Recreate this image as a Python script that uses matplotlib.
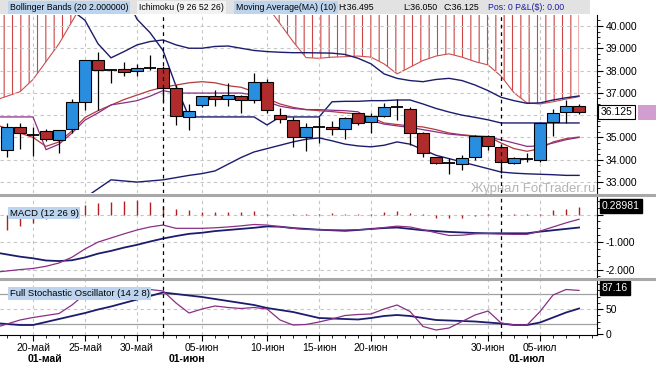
import numpy as np
import matplotlib
matplotlib.use("Agg")
import matplotlib.pyplot as plt
from matplotlib.patches import Rectangle
from matplotlib.lines import Line2D
from matplotlib.ticker import MultipleLocator
import matplotlib.transforms as mtrans

plt.rcParams['font.family'] = ['Liberation Sans', 'DejaVu Sans']
plt.rcParams['hatch.linewidth'] = 0.8
plt.rcParams['hatch.color'] = '#d04444'

# ---- values (one entry per daily bar) ----
opens = [34.44, 35.46, 35.11, 35.27, 34.90, 35.37, 36.60, 38.48, 38.03, 38.06,
         37.98, 38.13, 38.13, 37.23, 35.93, 36.46, 36.84, 36.74, 36.86, 36.68,
         37.50, 36.00, 35.78, 35.04, 35.49, 35.49, 35.37, 36.08, 35.71, 35.96,
         36.35, 36.26, 35.19, 34.11, 33.84, 33.81, 34.11, 35.07, 34.56, 33.87,
         34.02, 33.99, 35.71, 36.16, 36.41]
highs = [35.64, 35.66, 35.46, 35.40, 35.35, 36.71, 38.48, 38.85, 38.05, 38.40,
         38.30, 38.70, 38.20, 37.35, 36.50, 36.86, 37.13, 37.46, 36.90, 37.88,
         37.61, 36.31, 35.90, 35.64, 35.93, 35.75, 35.90, 36.10, 36.08, 36.56,
         36.71, 36.35, 35.25, 34.14, 34.07, 34.22, 35.10, 35.10, 34.70, 34.12,
         34.32, 35.70, 36.26, 36.68, 36.495]
lows = [34.11, 34.50, 34.17, 34.85, 34.32, 35.19, 36.22, 36.25, 37.44, 37.77,
        37.77, 38.03, 36.60, 35.56, 35.34, 36.38, 36.40, 36.40, 36.08, 36.56,
        36.11, 35.66, 34.55, 34.41, 34.77, 35.11, 34.92, 35.56, 35.22, 35.91,
        35.78, 34.66, 34.14, 33.80, 33.36, 33.54, 33.99, 34.44, 33.39, 33.80,
        33.90, 33.90, 35.07, 35.66, 36.05]
closes = [35.46, 35.19, 35.11, 34.93, 35.35, 36.58, 38.48, 38.03, 38.03, 37.95,
          38.10, 38.13, 37.23, 35.98, 36.20, 36.84, 36.72, 36.90, 36.68, 37.50,
          36.23, 35.82, 35.04, 35.46, 35.49, 35.37, 35.86, 35.66, 35.96, 36.35,
          36.35, 35.22, 34.32, 33.87, 33.84, 34.07, 35.07, 34.62, 33.92, 34.07,
          34.02, 35.66, 36.11, 36.41, 36.125]

bb_upper = [41.6, 41.5, 41.3, 41.1, 40.9, 40.7, 40.25, 39.2, 38.57, 38.85,
            39.15, 39.3, 39.37, 39.15, 39.0, 39.0, 39.08, 39.1, 39.0, 38.9,
            38.85, 38.82, 38.8, 38.8, 38.79, 38.78, 38.72, 38.55, 38.3, 37.85,
            37.65, 37.55, 37.5, 37.6, 37.65, 37.55, 37.35, 37.1, 36.8, 36.65,
            36.53, 36.55, 36.68, 36.78, 36.86]
bb_lower = [31.5, 31.6, 31.7, 31.8, 31.9, 32.1, 32.3, 32.7, 33.1, 33.05,
            33.0, 33.05, 33.1, 33.2, 33.3, 33.38, 33.5, 33.8, 34.1, 34.35,
            34.5, 34.65, 34.8, 34.92, 34.98, 34.85, 34.7, 34.62, 34.58, 34.65,
            34.8, 34.7, 34.45, 34.2, 34.05, 33.9, 33.75, 33.6, 33.45, 33.4,
            33.37, 33.35, 33.33, 33.3, 33.3]
kijun = [42.0, 42.0, 42.0, 42.0, 42.0, 42.0, 42.0, 42.0, 42.0, 41.5,
         40.3, 39.7, 38.9, 37.3, 35.92, 35.92, 35.92, 35.92, 35.92, 35.92,
         35.56, 35.92, 35.92, 35.92, 35.92, 36.6, 36.62, 36.62, 36.65, 36.65,
         36.68, 36.68, 36.5, 36.3, 36.14, 36.0, 35.9, 35.79, 35.65, 35.65,
         35.65, 35.65, 35.65, 35.65, 35.65]
tenkan = [35.92, 35.92, 35.92, 34.45, 34.7, 35.2, 35.78, 36.1, 36.46, 36.55,
          36.65, 36.85, 37.1, 36.99, 36.99, 36.99, 36.99, 36.99, 36.99, 36.9,
          36.6, 36.4, 36.3, 36.25, 36.25, 36.22, 36.2, 36.15, 35.75, 35.6,
          35.52, 35.45, 35.35, 35.25, 35.15, 35.1, 35.05, 35.0, 34.9, 34.75,
          34.6, 34.62, 34.75, 34.9, 35.0]
ma10 = [35.4, 35.2, 35.0, 34.6, 34.8, 35.3, 35.9, 36.2, 36.45, 36.7,
        36.9, 37.1, 37.25, 37.35, 37.45, 37.5, 37.45, 37.32, 37.25, 37.05,
        36.75, 36.5, 36.35, 36.25, 36.2, 36.16, 36.1, 36.05, 35.9, 35.65,
        35.58, 35.52, 35.47, 35.35, 35.2, 35.12, 35.07, 35.04, 34.75, 34.5,
        34.38, 34.5, 34.8, 34.95, 35.02]
cloud_lo = [36.85, 37.05, 37.6, 38.4, 39.2, 40.2, 41.2, 41.6, 41.8, 41.9,
            42.0, 42.0, 42.0, 42.0, 42.0, 42.0, 42.0, 42.0, 41.9, 41.6,
            40.9, 40.1, 39.3, 38.58, 38.55, 38.6, 38.62, 38.65, 38.6, 38.3,
            37.85, 38.15, 38.45, 38.65, 38.75, 38.6, 38.4, 38.25, 37.75, 37.0,
            36.55, 36.5, 36.6, 36.72, 36.83]

macd_hist = [-0.56, -0.42, -0.32, -0.17, -0.08, 0.04, 0.35, 0.43, 0.46, 0.48,
             0.53, 0.46, 0.30, 0.22, 0.17, 0.08, 0.10, 0.10, 0.10, 0.13,
             0.02, -0.02, 0.01, 0.02, 0.02, 0.05, 0.02, 0.01, 0.01, 0.08,
             0.12, 0.04, 0.01, -0.12, -0.12, -0.12, -0.06, 0.01, 0.0, 0.01,
             0.01, 0.02, 0.18, 0.21, 0.28981]
macd_main = [-2.05, -2.0, -1.96, -1.88, -1.76, -1.55, -1.25, -1.0, -0.85, -0.7,
             -0.56, -0.45, -0.38, -0.5, -0.5, -0.5, -0.48, -0.45, -0.41, -0.36,
             -0.38, -0.44, -0.5, -0.54, -0.55, -0.56, -0.56, -0.55, -0.53, -0.47,
             -0.42, -0.45, -0.55, -0.66, -0.76, -0.75, -0.7, -0.69, -0.71, -0.72,
             -0.72, -0.6, -0.45, -0.3, -0.17]
macd_signal = [-1.45, -1.53, -1.59, -1.67, -1.69, -1.66, -1.56, -1.42, -1.32, -1.2,
               -1.1, -0.98, -0.87, -0.78, -0.7, -0.66, -0.6, -0.56, -0.52, -0.48,
               -0.43, -0.44, -0.49, -0.52, -0.55, -0.57, -0.59, -0.56, -0.52, -0.49,
               -0.47, -0.52, -0.57, -0.6, -0.63, -0.65, -0.67, -0.68, -0.68, -0.68,
               -0.68, -0.62, -0.57, -0.52, -0.47]

stoch_k = [20, 28, 33, 37, 41, 58, 80, 85, 88, 90,
           90, 89, 86, 62, 42, 50, 56, 53, 51, 53,
           50, 28, 18, 19, 24, 30, 37, 39, 40, 50,
           58, 45, 15, 8, 12, 25, 38, 46, 22, 18,
           18, 45, 78, 89, 87.16]
stoch_d = [20, 18, 18, 24, 30, 36, 42, 49, 55, 62,
           69, 76, 83, 80, 77, 74, 70, 66, 62, 58,
           52, 48, 44, 38, 32, 31, 30, 29, 32, 36,
           38, 36, 32, 28, 27, 26, 25, 23, 21, 18,
           18, 23, 33, 43, 51]

date_ticks = [2, 6, 10, 15, 20, 24, 28, 37, 41]
date_labels = ['20-май', '25-май', '30-май', '05-июн', '10-июн', '15-июн',
               '20-июн', '30-июн', '05-июл']
month_labels = ['01-май', '01-июн', '01-июл']
month_seps = [12, 38]
price_ticks = [33, 34, 35, 36, 37, 38, 39, 40]

# ---- colours ----
up_col = '#2a8ee0'
dn_col = '#b02c2c'
navy = '#1c1c6e'
purple = '#8a2f86'
ma_col = '#b23a3a'
grid_col = '#c6c6c6'

W, H = 656, 367
fig = plt.figure(figsize=(W / 100, H / 100), dpi=100)


def box(x0, y0, x1, y1):
    # pixel rectangle (origin top-left) -> figure fraction rect
    return [x0 / W, 1 - y1 / H, (x1 - x0) / W, (y1 - y0) / H]


ax = fig.add_axes(box(0, 15, 597, 193))
axm = fig.add_axes(box(0, 197, 597, 277), sharex=ax)
axs = fig.add_axes(box(0, 280, 597, 335), sharex=ax)

bars = np.arange(len(closes))
x0 = -0.54
xe = np.r_[x0, bars]


def ext(v):
    v = np.asarray(v, float)
    return np.r_[v[0] + (v[0] - v[1]) * (0 - x0), v]


for a in (ax, axm, axs):
    a.set_xlim(x0, 45.38)
    for s in ('left', 'top', 'bottom'):
        a.spines[s].set_visible(False)
    a.spines['right'].set_linewidth(0.8)
    a.yaxis.tick_right()
    a.tick_params(axis='y', which='major', length=4, width=0.8, labelsize=7.5, pad=2)
    a.tick_params(axis='y', which='minor', length=2, width=0.6)
    a.grid(True, axis='x', color=grid_col, linestyle=(0, (3, 3)), lw=0.8)
    for m in month_seps:
        a.axvline(m, color='black', lw=0.9, linestyle=(0, (3, 3)), zorder=5)

axs.spines['bottom'].set_visible(True)
axs.spines['bottom'].set_linewidth(0.8)
axs.set_xticks(date_ticks)
axs.set_xticklabels(date_labels, fontsize=7.5)
axs.xaxis.set_minor_locator(MultipleLocator(1))
axs.tick_params(axis='x', which='major', length=4, width=0.8, pad=2)
axs.tick_params(axis='x', which='minor', length=2, width=0.6)
for a in (ax, axm):
    a.tick_params(axis='x', which='both', bottom=False, labelbottom=False)

# ---- main price panel ----
ax.set_ylim(32.51, 40.49)
ax.set_yticks(price_ticks)
# the 36.000 label sits under the current-price box
ax.set_yticklabels(['' if abs(p - closes[-1]) < 0.5 else '%.3f' % p for p in price_ticks])
ax.yaxis.set_minor_locator(MultipleLocator(0.25))
ax.grid(True, axis='y', color=grid_col, linestyle=(0, (3, 3)), lw=0.8)

ax.fill_between(xe, ext(cloud_lo), 42.5, facecolor='none', edgecolor='#d04444',
                hatch='||', lw=0, zorder=1)
ax.plot(xe, ext(cloud_lo), color='#c85050', lw=0.8, zorder=1.5)
ax.plot(xe, ext(bb_upper), color=navy, lw=1.0, zorder=2)
ax.plot(xe, ext(bb_lower), color=navy, lw=1.0, zorder=2)
ax.plot(xe, ext(kijun), color=navy, lw=1.0, zorder=2)
ax.plot(xe, ext(ma10), color=ma_col, lw=0.9, zorder=2)
ax.plot(xe, np.r_[tenkan[0], tenkan], color=purple, lw=0.9, zorder=2)

bw = 0.88
for i in bars:
    o, h, l, c = opens[i], highs[i], lows[i], closes[i]
    ax.vlines(i, l, h, color='black', lw=0.9, zorder=3)
    if abs(c - o) < 0.01:
        ax.hlines(o, i - bw / 2, i + bw / 2, color='black', lw=1.3, zorder=4)
    else:
        ax.add_patch(Rectangle((i - bw / 2, min(o, c)), bw, abs(c - o),
                               fc=up_col if c > o else dn_col, ec='black',
                               lw=0.8, zorder=4))

ax.text(0.997, -0.012, 'Журнал ForTrader.ru', transform=ax.transAxes, ha='right',
        va='bottom', fontsize=9.5, color='#b4b4b4', zorder=1)

yx = mtrans.blended_transform_factory(ax.transAxes, ax.transData)
ax.add_patch(Rectangle((1.069, 35.79), 0.032, 0.68, transform=yx, clip_on=False,
                       fc='#d29ed2', ec='none'))
ax.text(1.006, closes[-1], '%.3f' % closes[-1], transform=yx, ha='left', va='center',
        fontsize=7.5, zorder=6, clip_on=False,
        bbox=dict(boxstyle='square,pad=0.2', fc='white', ec='black', lw=0.8))

# ---- MACD panel ----
axm.set_ylim(-2.27, 0.64)
axm.set_yticks([-2, -1, 0])
axm.set_yticklabels(['-2.000', '-1.000', ''])
axm.yaxis.set_minor_locator(MultipleLocator(0.25))
axm.grid(True, axis='y', color=grid_col, linestyle=(0, (3, 3)), lw=0.8)
axm.vlines(bars, 0, macd_hist, color='#b02020', lw=1.0, zorder=2)
axm.plot(xe, ext(macd_signal), color=navy, lw=1.3, zorder=3)
axm.plot(xe, ext(macd_main), color=purple, lw=0.9, zorder=3)
ym = mtrans.blended_transform_factory(axm.transAxes, axm.transData)
axm.text(1.008, 0.31, '%.5f' % macd_hist[-1], transform=ym, ha='left', va='center',
         fontsize=7.5, color='white', zorder=6, clip_on=False,
         bbox=dict(boxstyle='square,pad=0.2', fc='black', ec='black'))
axm.text(0.016, 0.8, 'MACD (12 26 9)', transform=axm.transAxes, fontsize=6.8,
         va='center', ha='left', zorder=6,
         bbox=dict(boxstyle='square,pad=0.2', fc='#bcd4ee', ec='none'))

# ---- stochastic panel ----
axs.set_ylim(-2, 108)
axs.set_yticks([0, 50])
axs.yaxis.set_minor_locator(MultipleLocator(12.5))
axs.axhline(50, color=grid_col, linestyle=(0, (3, 3)), lw=0.8, zorder=1)
for lvl in (20, 80):
    axs.axhline(lvl, color='#a0a0a0', lw=0.9, zorder=1)
axs.plot(xe, ext(stoch_d), color=navy, lw=1.3, zorder=3)
axs.plot(xe, ext(stoch_k), color=purple, lw=0.9, zorder=3)
ys = mtrans.blended_transform_factory(axs.transAxes, axs.transData)
axs.text(1.008, 92, '%.2f' % stoch_k[-1], transform=ys, ha='left', va='center',
         fontsize=7.5, color='white', zorder=6, clip_on=False,
         bbox=dict(boxstyle='square,pad=0.2', fc='black', ec='black'))
axs.text(0.016, 0.76, 'Full Stochastic Oscillator (14 2 8)', transform=axs.transAxes,
         fontsize=6.8, va='center', ha='left', zorder=6,
         bbox=dict(boxstyle='square,pad=0.2', fc='#bcd4ee', ec='none'))

xb = mtrans.blended_transform_factory(axs.transData, axs.transAxes)
for lab, xm in zip(month_labels, (1.55, 12.4, 38.6)):
    axs.text(xm, -0.44, lab, transform=xb, ha='left', va='center', fontsize=7.5,
             fontweight='bold', clip_on=False)

# ---- panel separators ----
for yy in (195, 278.5):
    fig.add_artist(Line2D([0, 1], [1 - yy / H] * 2, color='#a8a8a8', lw=2.2))

# ---- header strip ----
fig.add_artist(Rectangle((0, 1 - 14 / H), 590 / W, 14 / H, transform=fig.transFigure,
                         fc='#e2e2e2', ec='none'))
hfs = 6.3
hl = dict(boxstyle='square,pad=0.2', fc='#bcd4ee', ec='none')
hy = 1 - 7.5 / H
fig.text(10 / W, hy, 'Bollinger Bands (20 2.000000)', fontsize=hfs, va='center', bbox=hl)
fig.text(139 / W, hy, 'Ichimoku (9 26 52 26)', fontsize=hfs, va='center',
         bbox=dict(boxstyle='square,pad=0.2', fc='#f2f2f2', ec='none'))
fig.text(236 / W, hy, 'Moving Average(MA) (10)', fontsize=hfs, va='center', bbox=hl)
fig.text(338 / W, hy, 'H:36.495', fontsize=hfs, va='center')
fig.text(403 / W, hy, 'L:36.050', fontsize=hfs, va='center')
fig.text(443 / W, hy, 'C:36.125', fontsize=hfs, va='center')
fig.text(488 / W, hy, 'Pos: 0 P&L($): 0.00', fontsize=hfs, va='center', color='#1c1ca8')

fig.savefig('out.png', dpi=100)
